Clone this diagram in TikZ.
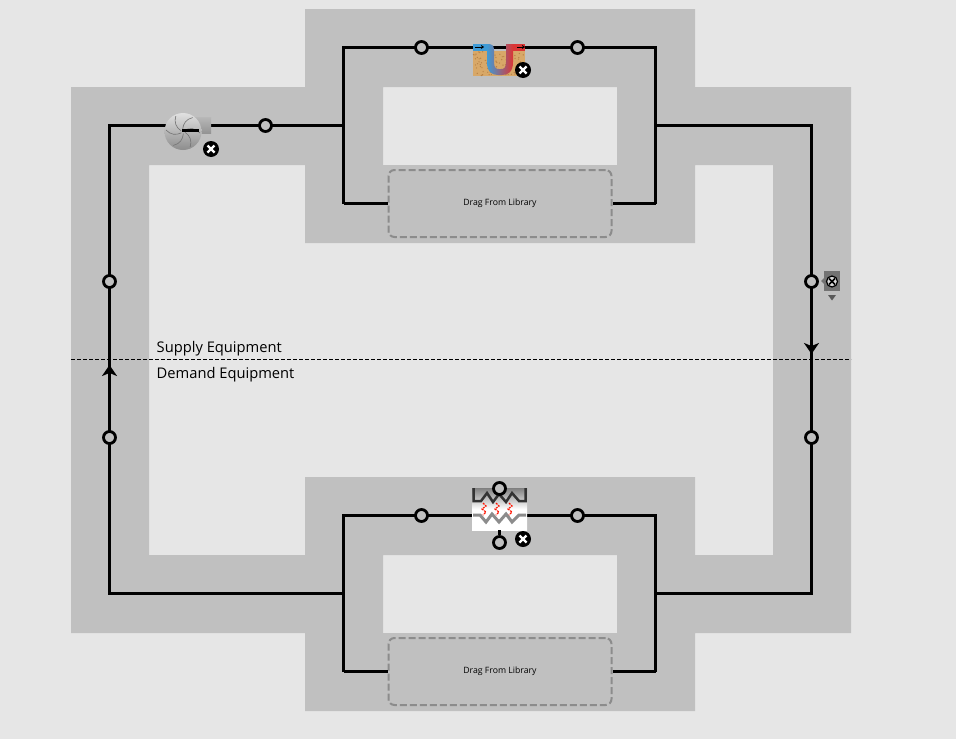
\documentclass[tikz,border=0pt]{standalone}
\usepackage{fontspec}
\setmainfont{Open Sans}
\usetikzlibrary{arrows.meta}
\definecolor{backgray}{HTML}{E6E6E6}
\definecolor{bandgray}{HTML}{C0C0C0}
\definecolor{dropgray}{HTML}{8C8C8C}
\definecolor{sand}{HTML}{D8A868}
\definecolor{sanddark}{HTML}{B98246}
\definecolor{loopblue}{HTML}{3F9BD6}
\definecolor{loopred}{HTML}{DB3535}
\begin{document}
\begin{tikzpicture}[x=1pt,y=-1pt,
    pipe/.style={line width=3pt,black},
    port/.style={circle,draw=black,fill=bandgray,line width=2.8pt,minimum size=12pt,inner sep=0pt},
    dropbox/.style={draw=dropgray,fill=bandgray,dash pattern=on 7pt off 3pt,line width=2pt,rounded corners=6pt,minimum width=223pt,minimum height=67pt,inner sep=0pt,font=\fontsize{8.7}{10}\selectfont},
    badge/.style={circle,fill=black,minimum size=16pt,inner sep=0pt},
    cross/.style={white,line width=2.4pt},
    loopmark/.style={-{Stealth[length=11pt,width=15pt,inset=3pt]},line width=3pt},
    sidelabel/.style={anchor=west,inner sep=0pt,font=\fontsize{14.7}{17}\selectfont}]
    \useasboundingbox (0,0) rectangle (956,739);
    \fill[backgray] (0,0) rectangle (956,739);
    \fill[bandgray,even odd rule] (71,87) -- (305,87) -- (305,9) -- (695,9) -- (695,87) -- (851,87) -- (851,633) -- (695,633) -- (695,711) -- (305,711) -- (305,633) -- (71,633) -- cycle
        (149,165) -- (305,165) -- (305,243) -- (695,243) -- (695,165) -- (773,165) -- (773,555) -- (695,555) -- (695,477) -- (305,477) -- (305,555) -- (149,555) -- cycle
        (383,87) rectangle (617,165)
        (383,555) rectangle (617,633);

    \coordinate (topleft) at (109.5,125.5);
    \coordinate (botleft) at (109.5,593.5);
    \coordinate (topright) at (811.5,125.5);
    \coordinate (botright) at (811.5,593.5);
    \coordinate (supjoinl) at (343.5,125.5);
    \coordinate (supjoinr) at (655.5,125.5);
    \coordinate (demjoinl) at (343.5,593.5);
    \coordinate (demjoinr) at (655.5,593.5);
    \coordinate (suptopl) at (343.5,47.5);
    \coordinate (suptopr) at (655.5,47.5);
    \coordinate (supbotl) at (343.5,203.5);
    \coordinate (supbotr) at (655.5,203.5);
    \coordinate (demtopl) at (343.5,515.5);
    \coordinate (demtopr) at (655.5,515.5);
    \coordinate (dembotl) at (343.5,671.5);
    \coordinate (dembotr) at (655.5,671.5);

    \draw[pipe] (supjoinl) -- (topleft) -- (botleft) -- (demjoinl);
    \draw[pipe] (supjoinr) -- (topright) -- (botright) -- (demjoinr);
    \draw[pipe] (supbotl) -- (suptopl) -- (suptopr) -- (supbotr);
    \draw[pipe] (dembotl) -- (demtopl) -- (demtopr) -- (dembotr);

    \node[dropbox] (supdrop) at (500,203.5) {\raisebox{-1.5pt}{Drag From Library}};
    \node[dropbox] (demdrop) at (500,671.5) {\raisebox{-1.5pt}{Drag From Library}};
    \draw[pipe] (supbotl) -- (supdrop.west);
    \draw[pipe] (supbotr) -- (supdrop.east);
    \draw[pipe] (dembotl) -- (demdrop.west);
    \draw[pipe] (dembotr) -- (demdrop.east);

    \draw[dash pattern=on 4pt off 2pt,line width=0.7pt] (71,359) -- (851,359);
    \node[sidelabel] (supplylabel) at (156.5,348.5) {Supply Equipment};
    \node[sidelabel] (demandlabel) at (156.5,374.5) {Demand Equipment};

    \coordinate (uparrowa) at (109.5,381);
    \coordinate (uparrowb) at (109.5,365);
    \coordinate (downarrowa) at (811.5,338);
    \coordinate (downarrowb) at (811.5,354);
    \draw[loopmark] (uparrowa) -- (uparrowb);
    \draw[loopmark] (downarrowa) -- (downarrowb);

    % fan
    \shade[top color=black!28,bottom color=black!42] (192,117) rectangle (211,133);
    \shade[top color=black!12,bottom color=black!45] (183,131.5) circle (18.5);
    \foreach \a in {20,80,140,200,260,320}
        \draw[black!55,line width=0.6pt,shift={(183,131.5)}] (\a:2) .. controls (\a+10:8) and (\a+25:13) .. (\a+45:17);
    \draw[line width=3pt] (182,130) -- (199,130);
    \node[badge] (fanbadge) at (211,149) {};
    \draw[cross] (207.5,145.5) -- (214.5,152.5) (214.5,145.5) -- (207.5,152.5);

    % ground loop
    \fill[sand] (473,51) rectangle (525,76);
    \pgfmathsetseed{7}
    \foreach \i in {1,...,90}
        \fill[sanddark] (473.5+51*rnd,51.5+24*rnd) circle (0.7);
    \fill[loopblue] (473,44) rectangle (490,51);
    \fill[loopred] (508,44) rectangle (525,51);
    \shade[left color=loopblue,right color=loopred] (487,44) -- (487,62) .. controls (487,72) and (492,75) .. (498,75) -- (502,75) .. controls (508,75) and (513,72) .. (513,62) -- (513,44) -- (506,44) -- (506,62) .. controls (506,68) and (504,69) .. (501,69) -- (499,69) .. controls (496,69) and (494,68) .. (494,62) -- (494,50) .. controls (494,45) and (492,44) .. (487,44) -- cycle;
    \draw[-{Stealth[length=3pt,width=4pt]},line width=0.8pt] (475,47) -- (484,47);
    \draw[-{Stealth[length=3pt,width=4pt]},line width=0.8pt] (517,47) -- (525,47);
    \node[badge] (loopbadge) at (523,70) {};
    \draw[cross] (519.5,66.5) -- (526.5,73.5) (526.5,66.5) -- (519.5,73.5);

    % heating coil
    \shade[top color=black!50,bottom color=white,middle color=white] (472,488) rectangle (527,530);
    \draw[black!80,line width=2.5pt] (473.5,488) -- (473.5,501) -- (481,501) -- (487,493) -- (493,502) -- (499,494) -- (506,502) -- (512,493) -- (519,501) -- (525.5,501) -- (525.5,488);
    \draw[black!45,line width=3pt] (473,515) -- (480,515) -- (486,522) -- (492,514) -- (499,522) -- (506,514) -- (512,522) -- (519,515) -- (526,515);
    \foreach \x in {484,497,510}
        \draw[red!85!orange,line width=1.2pt,dash pattern=on 2pt off 1pt] (\x-1,503) -- (\x+2,506) -- (\x-2,509) -- (\x+2,512) -- (\x-1,515);
    \node[badge] (coilbadge) at (523,539) {};
    \draw[cross] (519.5,535.5) -- (526.5,542.5) (526.5,535.5) -- (519.5,542.5);

    % setpoint
    \fill[black!55] (824,271) rectangle (840,291);
    \fill[black!55] (824,278) -- (821,281) -- (824,284) -- cycle;
    \fill[black!65] (828,295) -- (836,295) -- (832,300.5) -- cycle;
    \node[circle,draw=black,fill=black!15,line width=1.2pt,minimum size=11pt,inner sep=0pt] (setbadge) at (832,281.5) {};
    \draw[black,line width=1.5pt] (829,278.5) -- (835,284.5) (835,278.5) -- (829,284.5);

    \node[port] (suptopa) at (421.5,47.5) {};
    \node[port] (suptopb) at (577.5,47.5) {};
    \node[port] (fanout) at (265.5,125.5) {};
    \node[port] (leftsup) at (109.5,281.5) {};
    \node[port] (leftdem) at (109.5,437.5) {};
    \node[port] (rightsup) at (811.5,281.5) {};
    \node[port] (rightdem) at (811.5,437.5) {};
    \node[port] (demtopa) at (421.5,515.5) {};
    \node[port] (demtopb) at (577.5,515.5) {};
    \node[port] (coilin) at (499.5,488.5) {};
    \node[port] (coilout) at (499.5,542.5) {};
    \coordinate (coilstub) at (499.5,530);
    \draw[pipe] (coilstub) -- (coilout.north);
\end{tikzpicture}
\end{document}
